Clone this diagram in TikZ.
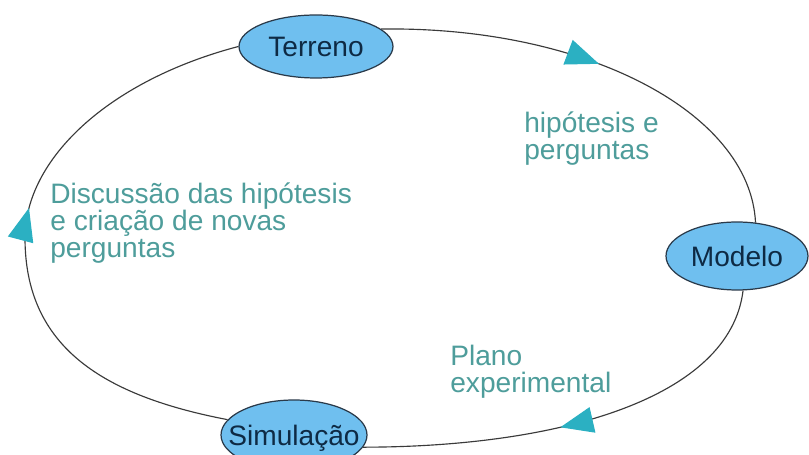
\documentclass[tikz,border=0pt]{standalone}
\usepackage{fontspec}
\setmainfont{Liberation Sans}
\usetikzlibrary{arrows.meta,decorations.markings,backgrounds,shapes.geometric}
\definecolor{nodefill}{HTML}{6FBFEF}
\definecolor{nodeborder}{HTML}{2A3A4A}
\definecolor{nodetext}{HTML}{0E2A44}
\definecolor{labeltext}{HTML}{4E9D9B}
\definecolor{arrowc}{HTML}{2BB0C2}
\definecolor{ringc}{HTML}{3A3A3A}
\begin{document}
\begin{tikzpicture}[x=0.02cm,y=-0.02cm,
  stage/.style={ellipse, draw=nodeborder, line width=0.7pt, fill=nodefill, inner sep=0pt,
    text=nodetext, font=\fontsize{16}{16}\selectfont, text height=11.4pt, text depth=0pt},
  lbl/.style={anchor=base west, inner sep=0pt, align=left, text=labeltext,
    font=\fontsize{16}{15.6}\selectfont},
  ring/.style={draw=ringc, line width=0.65pt},
  midarrow/.style={postaction={decorate}, decoration={markings,
    mark=at position #1 with {\arrow{Triangle[length=0.66cm,width=0.52cm,color=arrowc]}}}}
]
\useasboundingbox (0,0) rectangle (809,455);

\node[stage, minimum width=3.08cm, minimum height=1.26cm] (T) at (316,46.5) {\makebox[0pt]{Terreno}};
\node[stage, minimum width=2.84cm, minimum height=1.36cm] (M) at (737,256) {\makebox[0pt]{Modelo}};
\node[stage, minimum width=2.92cm, minimum height=1.40cm] (S) at (294,435) {\makebox[0pt]{Simulação}};

\node[lbl] (q) at (524,160) {hipótesis e\\perguntas};
\node[lbl] (d) at (50,258) {Discussão das hipótesis\\e criação de novas\\perguntas};
\node[lbl] (p) at (450,393) {Plano\\experimental};

\begin{scope}[on background layer]
\fill[white] (0,0) rectangle (809,455);
\draw[ring, midarrow=0.485] (T.15) .. controls (585,26) and (750,112) .. (M.61);
\draw[ring, midarrow=0.55] (M.-80) .. controls (730,398) and (560,447) .. (S.-10);
\coordinate (L) at (25,238);
\draw[ring, midarrow=0.545] (S.167) .. controls (104.5,396) and (25,348) .. (L)
  .. controls (25,159) and (108.7,80.6) .. (T.west);
\end{scope}
\end{tikzpicture}
\end{document}
